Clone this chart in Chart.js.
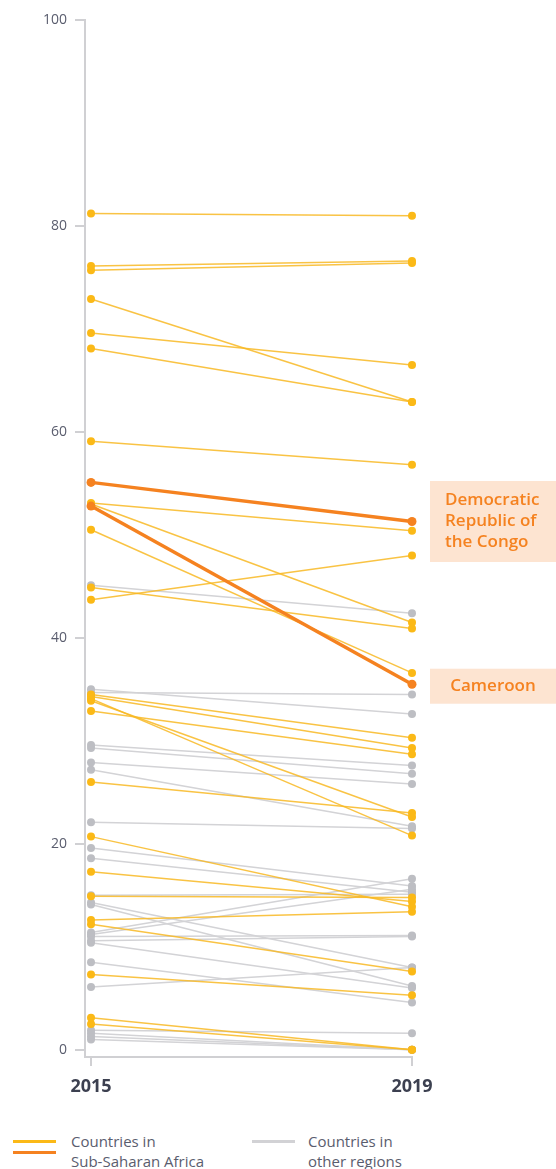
<!DOCTYPE html>
<html>
<head>
<meta charset="utf-8">
<script src="https://cdn.jsdelivr.net/npm/chart.js@4.4.1/dist/chart.umd.min.js"></script>
<style>
  body { margin: 0; background: #fff; font-family: "Open Sans", sans-serif; }
  #wrap { position: relative; width: 556px; height: 1169px; }
  #chart { position: absolute; left: 0; top: 0; }
  .swatch { position: absolute; width: 43px; height: 3px; }
  .legtext { position: absolute; font-size: 15px; line-height: 20px; color: #5a5d6e; }
</style>
</head>
<body>
<div id="wrap">
  <canvas id="chart" width="556" height="1110"></canvas>
  <div class="swatch" style="left:13px; top:1140px; background:#fbb917;"></div>
  <div class="swatch" style="left:13px; top:1151px; background:#f58220;"></div>
  <div class="legtext" style="left:71px; top:1131px;">Countries in<br>Sub-Saharan Africa</div>
  <div class="swatch" style="left:252px; top:1140px; background:#d2d2d5;"></div>
  <div class="legtext" style="left:308px; top:1131px;">Countries in<br>other regions</div>
</div>
<script>
// Slope chart, 2015 vs 2019

const years = [2015, 2019];
const yTicks = [0, 20, 40, 60, 80, 100];

// Sub-Saharan Africa countries (start / end)
const ssaStart = [81.2, 76.1, 75.7, 72.9, 69.6, 68.1, 59.1, 53.1, 53.0, 50.5, 44.9, 43.7,
    34.5, 34.3, 34.1, 33.9, 32.9, 26.0, 20.7, 17.3, 14.9, 12.6, 12.2, 7.3, 3.1, 2.5];
const ssaEnd = [81.0, 76.6, 76.4, 62.9, 66.5, 62.9, 56.8, 50.4, 41.5, 36.6, 40.9, 48.0,
    30.3, 29.3, 20.8, 22.6, 28.7, 23.0, 13.9, 14.4, 14.8, 13.4, 7.6, 5.3, 0.0, 0.0];

// Countries in other regions
const otherStart = [45.1, 35.0, 34.7, 29.6, 29.3, 27.9, 27.2, 22.1, 19.6, 18.6, 15.0, 14.3,
    14.1, 11.4, 11.2, 11.0, 10.6, 10.4, 8.5, 6.1, 1.9, 1.6, 1.3, 1.0];
const otherEnd = [42.4, 32.6, 34.5, 27.6, 26.8, 25.8, 21.7, 21.5, 15.9, 15.3, 15.1, 8.0,
    6.2, 16.6, 15.6, 11.1, 11.0, 6.0, 4.6, 8.0, 1.6, 0.0, 0.0, 0.0];

// Highlighted countries
const highlightNames = ['Democratic Republic of the Congo', 'Cameroon'];
const highlightLabels = [['Democratic', 'Republic of', 'the Congo'], ['Cameroon']];
const highlightStart = [55.1, 52.8];
const highlightEnd = [51.3, 35.5];

const YELLOW = '#fbb917';
const YELLOW_LINE = 'rgba(248, 185, 35, 0.85)';
const ORANGE = '#f58220';
const GREY = '#bdbec3';
const GREY_LINE = '#d3d3d6';
const AXIS = '#d0d0d3';

function pairDataset(a, b, opts) {
    return Object.assign({
        data: [{ x: years[0], y: a }, { x: years[1], y: b }],
        clip: false,
        pointRadius: 4,
        pointHoverRadius: 4,
        pointBorderWidth: 0,
        borderWidth: 1.5,
        tension: 0
    }, opts);
}

const datasets = [];
otherStart.forEach((v, i) => {
    datasets.push(pairDataset(v, otherEnd[i], {
        borderColor: GREY_LINE, pointBackgroundColor: GREY, order: 3
    }));
});
ssaStart.forEach((v, i) => {
    datasets.push(pairDataset(v, ssaEnd[i], {
        borderColor: YELLOW_LINE, pointBackgroundColor: YELLOW, order: 2
    }));
});
highlightStart.forEach((v, i) => {
    datasets.push(pairDataset(v, highlightEnd[i], {
        label: highlightNames[i],
        borderColor: ORANGE, pointBackgroundColor: ORANGE,
        borderWidth: 3.5, pointRadius: 4.5, order: 1
    }));
});

// Label boxes next to the highlighted lines
const labelBoxes = {
    id: 'labelBoxes',
    afterDatasetsDraw(chart) {
        const ctx = chart.ctx;
        const y = chart.scales.y;
        const left = chart.chartArea.right + 18;
        const right = chart.width;
        const lineH = 21;
        ctx.save();
        ctx.font = '600 17px "Open Sans"';
        ctx.textBaseline = 'middle';
        highlightLabels.forEach((lines, i) => {
            const multi = lines.length > 1;
            const cy = y.getPixelForValue(highlightEnd[i]) + (multi ? 0 : 2);
            const h = multi ? lines.length * lineH + 18 : 35;
            ctx.fillStyle = '#fde4d1';
            ctx.fillRect(left, cy - h / 2, right - left, h);
            ctx.fillStyle = ORANGE;
            lines.forEach((t, j) => {
                const ty = cy + (j - (lines.length - 1) / 2) * lineH;
                if (multi) {
                    ctx.textAlign = 'left';
                    ctx.fillText(t, left + 15, ty);
                } else {
                    ctx.textAlign = 'center';
                    ctx.fillText(t, (left + right) / 2, ty);
                }
            });
        });
        ctx.restore();
    }
};

new Chart(document.getElementById('chart'), {
    type: 'line',
    data: { datasets },
    options: {
        responsive: false,
        animation: false,
        layout: { padding: { left: 0, right: 144, top: 20, bottom: 0 } },
        plugins: { legend: { display: false }, tooltip: { enabled: false } },
        scales: {
            x: {
                type: 'linear',
                min: 2014.925,
                max: 2019,
                afterBuildTicks: (s) => { s.ticks = years.map(v => ({ value: v })); },
                afterFit: (s) => { s.height = 53; },
                grid: { drawOnChartArea: false, color: AXIS, tickLength: 9, lineWidth: 2 },
                border: { color: AXIS, width: 2 },
                ticks: {
                    padding: 10,
                    color: '#3c4050',
                    font: { family: 'Open Sans', size: 18, weight: 'bold' },
                    callback: (v) => String(v)
                }
            },
            y: {
                min: -0.7,
                max: 100,
                afterBuildTicks: (s) => { s.ticks = yTicks.map(v => ({ value: v })); },
                afterFit: (s) => { s.width = 85; },
                grid: { drawOnChartArea: false, color: AXIS, tickLength: 10, lineWidth: 2 },
                border: { color: AXIS, width: 2 },
                ticks: {
                    padding: 8,
                    color: '#5a5d6e',
                    font: { family: 'Open Sans', size: 14 }
                }
            }
        }
    },
    plugins: [labelBoxes]
});
</script>
</body>
</html>
